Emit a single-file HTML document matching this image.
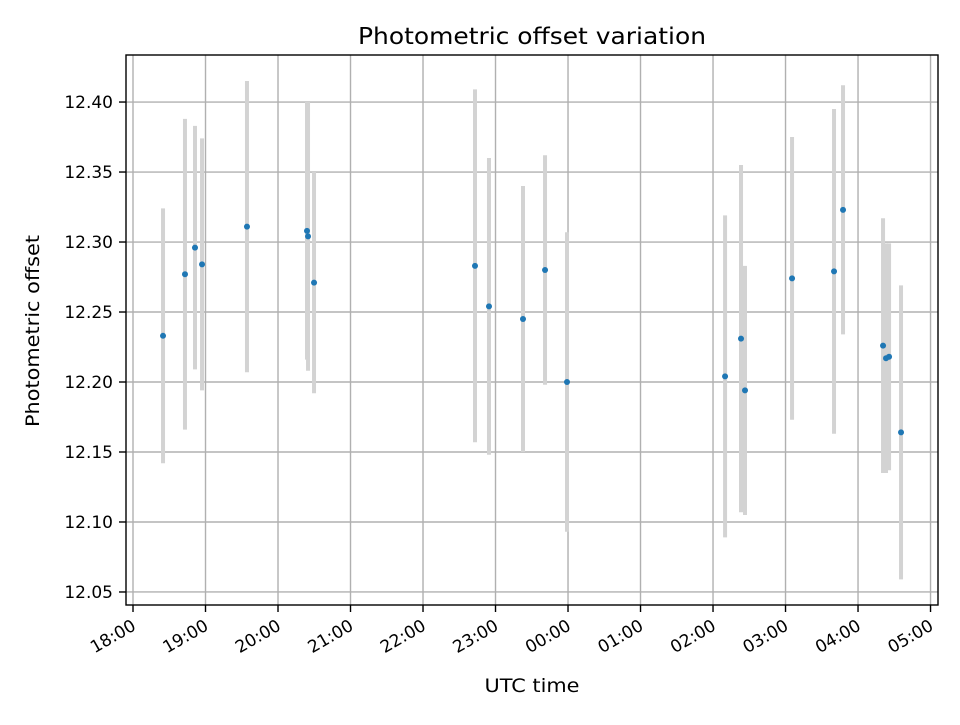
<!DOCTYPE html>
<html><head><meta charset="utf-8"><style>
body{margin:0;background:#fff}
svg text{font-family:"DejaVu Sans","Liberation Sans",sans-serif;fill:#000}
</style></head><body>
<svg id="chart" width="960" height="720" viewBox="0 0 960 720" xmlns="http://www.w3.org/2000/svg">
<rect width="960" height="720" fill="#fff"/>
<text x="532" y="44" font-size="23" text-anchor="middle" textLength="348" lengthAdjust="spacingAndGlyphs">Photometric offset variation</text>
<g id="grid"></g>
<g id="bars"></g>
<g id="pts"></g>
<rect x="126" y="55" width="812" height="550" fill="none" stroke="#000" stroke-width="1.4"/>
<g id="ticks"></g>
<text x="532" y="692" font-size="19" text-anchor="middle" textLength="95" lengthAdjust="spacingAndGlyphs">UTC time</text>
<text transform="translate(39,331) rotate(-90)" font-size="19" text-anchor="middle" textLength="192" lengthAdjust="spacingAndGlyphs">Photometric offset</text>
</svg>
<script>
// hours after 18:00 UTC
const times=[0.414,0.717,0.855,0.952,1.572,2.400,2.414,2.497,4.717,4.910,5.379,5.683,5.986,8.166,8.386,8.441,9.090,9.669,9.793,10.345,10.386,10.428,10.593];
const values=[12.233,12.277,12.296,12.284,12.311,12.308,12.304,12.271,12.283,12.254,12.245,12.280,12.200,12.204,12.231,12.194,12.274,12.279,12.323,12.226,12.217,12.218,12.164];
const errors=[0.091,0.111,0.087,0.090,0.104,0.092,0.096,0.079,0.126,0.106,0.095,0.082,0.107,0.115,0.124,0.089,0.101,0.116,0.089,0.091,0.082,0.081,0.105];
const xTickLabels=["18:00","19:00","20:00","21:00","22:00","23:00","00:00","01:00","02:00","03:00","04:00","05:00"];
const yTickValues=[12.05,12.10,12.15,12.20,12.25,12.30,12.35,12.40];

const X0=126,X1=938,Y0=55,Y1=605;
const xmin=-0.0966,xmax=11.103,ymin=12.0407,ymax=12.4336;
const xs=h=>X0+(h-xmin)/(xmax-xmin)*(X1-X0);
const ys=v=>Y1-(v-ymin)/(ymax-ymin)*(Y1-Y0);
const NS="http://www.w3.org/2000/svg";
function mk(tag,attrs,parent){const e=document.createElementNS(NS,tag);for(const k in attrs)e.setAttribute(k,attrs[k]);document.getElementById(parent).appendChild(e);return e;}

xTickLabels.forEach((lab,i)=>{
  const x=xs(i);
  const g=mk('line',{x1:x,x2:x,y1:Y0,y2:Y1,stroke:'#b0b0b0','stroke-width':1.4},'grid');
  
  
  const t=mk('line',{x1:x,x2:x,y1:Y1,y2:Y1+7,stroke:'#000','stroke-width':1.4},'ticks');
  
  
  const ax=x+4, ay=Y1+24;
  const tx=mk('text',{x:ax,y:ay,'font-size':17,'text-anchor':'end',transform:`rotate(-30 ${ax} ${ay})`},'ticks');
  tx.textContent=lab;
  
  
});
yTickValues.forEach(v=>{
  const y=ys(v);
  const g=mk('line',{x1:X0,x2:X1,y1:y,y2:y,stroke:'#b0b0b0','stroke-width':1.4},'grid');
  
  
  const t=mk('line',{x1:X0-7,x2:X0,y1:y,y2:y,stroke:'#000','stroke-width':1.4},'ticks');
  
  
  const tx=mk('text',{x:X0-13,y:y+6,'font-size':17,'text-anchor':'end'},'ticks');
  tx.textContent=v.toFixed(2);
  
  
});
times.forEach((h,i)=>{
  const x=xs(h);
  const b=mk('line',{x1:x,x2:x,y1:ys(values[i]+errors[i]),y2:ys(values[i]-errors[i]),stroke:'#d3d3d3','stroke-width':4},'bars');
  
  
  const c=mk('circle',{cx:x,cy:ys(values[i]),r:3,fill:'#1f77b4'},'pts');
  
  
});
</script>
</body></html>
